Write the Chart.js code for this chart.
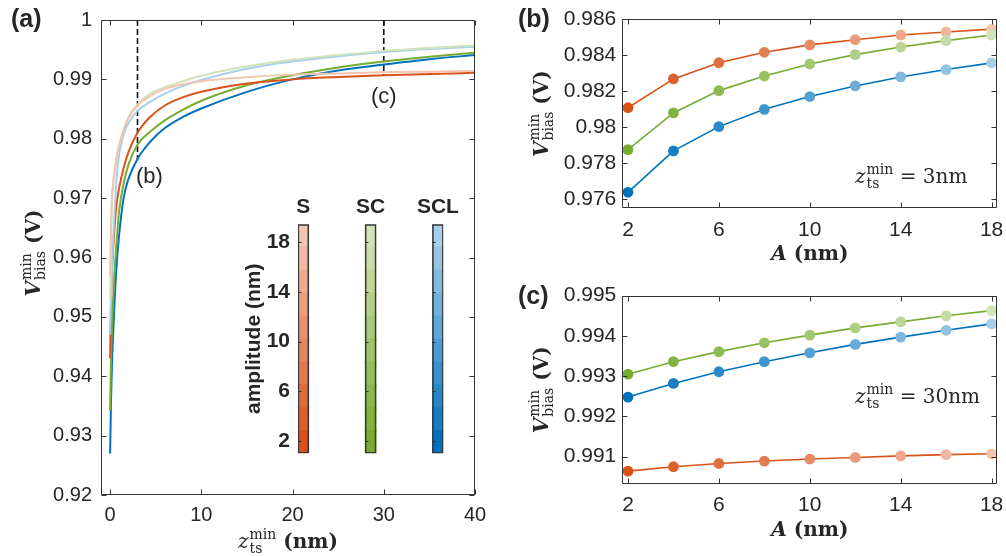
<!DOCTYPE html>
<html><head><meta charset="utf-8">
<script src="https://cdn.jsdelivr.net/npm/chart.js@4.4.1/dist/chart.umd.min.js"></script>
<style>
html,body{margin:0;padding:0;background:#fff;width:1006px;height:556px;overflow:hidden;position:relative}
.box{position:absolute}
canvas{display:block}
</style></head><body>
<div class="box" style="left:0;top:0;width:490px;height:556px"><canvas id="ca" width="490" height="556"></canvas></div>
<div class="box" style="left:240px;top:188px;width:230px;height:290px"><canvas id="cbar" width="230" height="290"></canvas></div>
<div class="box" style="left:500px;top:0;width:506px;height:280px"><canvas id="cb" width="506" height="280"></canvas></div>
<div class="box" style="left:500px;top:280px;width:506px;height:276px"><canvas id="cc" width="506" height="276"></canvas></div>
<script>
// ---------------- data ----------------
const families = ['S', 'SC', 'SCL'];
const ampNm = [2, 4, 6, 8, 10, 12, 14, 16, 18];
const ampTicks = [2, 6, 10, 14, 18];
const ampTickLabels = ['2', '6', '10', '14', '18'];
// colour-bar range (nm) and number of colour levels shown in each bar
const cbRange = [1, 19.45];
const cbLevels = 10;

// panel (a): V_bias^min vs z_ts^min for A = 2 nm and A = 18 nm
const zNm = [0, 0.1, 0.2, 0.3, 0.5, 0.75, 1, 1.5, 2, 3, 4.4, 6, 8, 10, 15, 20, 25, 30, 35, 40];
const vS_A2    = [0.943, 0.9525, 0.9575, 0.9605, 0.9655, 0.9695, 0.9718, 0.9752, 0.9777, 0.9810, 0.9837, 0.9856, 0.9870, 0.9879, 0.9893, 0.9900, 0.9904, 0.9907, 0.9909, 0.9911];
const vS_A18   = [0.957, 0.965, 0.9700, 0.9720, 0.9747, 0.9772, 0.9790, 0.9815, 0.9834, 0.9856, 0.9872, 0.9884, 0.9892, 0.9897, 0.99035, 0.9908, 0.9910, 0.9912, 0.9913, 0.9914];
const vSC_A2   = [0.9342, 0.943, 0.948, 0.952, 0.958, 0.9635, 0.9680, 0.9726, 0.9756, 0.9790, 0.9812, 0.9831, 0.9849, 0.9864, 0.9890, 0.9907, 0.9920, 0.9930, 0.9938, 0.9945];
const vSC_A18  = [0.953, 0.963, 0.9695, 0.9718, 0.9745, 0.9772, 0.9790, 0.9816, 0.9836, 0.9858, 0.9876, 0.9887, 0.9897, 0.9906, 0.9922, 0.9933, 0.9941, 0.9948, 0.9953, 0.9957];
const vSCL_A2  = [0.927, 0.936, 0.942, 0.946, 0.953, 0.9595, 0.9640, 0.9702, 0.9732, 0.9766, 0.9795, 0.9818, 0.9837, 0.9851, 0.9879, 0.9900, 0.9915, 0.9925, 0.9934, 0.9941];
const vSCL_A18 = [0.947, 0.953, 0.958, 0.962, 0.968, 0.9740, 0.9775, 0.9808, 0.9826, 0.9847, 0.9862, 0.9876, 0.9889, 0.9899, 0.9918, 0.9930, 0.9939, 0.9946, 0.9951, 0.9955];
const markB = { z: 3, vEnd: 0.9764 };
const markC = { z: 30, vEnd: 0.9906 };
const xTicksA = [0, 10, 20, 30, 40];
const xTickLabelsA = ['0', '10', '20', '30', '40'];
const yTicksA = [0.92, 0.93, 0.94, 0.95, 0.96, 0.97, 0.98, 0.99, 1];
const yTickLabelsA = ['0.92', '0.93', '0.94', '0.95', '0.96', '0.97', '0.98', '0.99', '1'];

// panel (b): z_ts^min = 3 nm
const vB_S   = [0.98107, 0.98267, 0.98357, 0.98415, 0.98456, 0.98485, 0.98511, 0.98528, 0.98544];
const vB_SC  = [0.97874, 0.98078, 0.98202, 0.98283, 0.98350, 0.98402, 0.98444, 0.98480, 0.98511];
const vB_SCL = [0.97637, 0.97867, 0.98002, 0.98098, 0.98169, 0.98228, 0.98278, 0.98319, 0.98356];
const yTicksB = [0.976, 0.978, 0.98, 0.982, 0.984, 0.986];
const yTickLabelsB = ['0.976', '0.978', '0.98', '0.982', '0.984', '0.986'];

// panel (c): z_ts^min = 30 nm
const vC_S   = [0.99064, 0.99075, 0.99083, 0.99089, 0.99094, 0.99098, 0.99102, 0.99105, 0.99107];
const vC_SC  = [0.99305, 0.99336, 0.99361, 0.99383, 0.99402, 0.99420, 0.99435, 0.99450, 0.99463];
const vC_SCL = [0.99248, 0.99282, 0.99311, 0.99336, 0.99358, 0.99379, 0.99397, 0.99414, 0.99430];
const yTicksC = [0.991, 0.992, 0.993, 0.994, 0.995];
const yTickLabelsC = ['0.991', '0.992', '0.993', '0.994', '0.995'];

// ---------------- styles ----------------
const INK = '#262626';
const SANS = '"Liberation Sans", Arial, sans-serif';
const SERIF = '"DejaVu Serif", serif';
const baseRGB = { S: [217, 83, 25], SC: [119, 172, 48], SCL: [0, 114, 189] };
const LIGHTEST = 0.66;
function mix(rgb, f) { return 'rgb(' + rgb.map(c => Math.round(c + (255 - c) * f)).join(',') + ')'; }
const shades = {}, cbShades = {};
families.forEach(f => {
  shades[f] = ampNm.map((a, i) => mix(baseRGB[f], LIGHTEST * i / (ampNm.length - 1)));
  cbShades[f] = Array.from({ length: cbLevels }, (_, k) => mix(baseRGB[f], LIGHTEST * k / (cbLevels - 1)));
});
const dark = f => shades[f][0];
const light = f => shades[f][ampNm.length - 1];

Chart.defaults.font.family = SANS;
Chart.defaults.color = INK;
Chart.defaults.animation = false;

function axis(o) {
  return {
    type: 'linear', min: o.min, max: o.max, position: o.pos, offset: false,
    grid: { display: false, drawTicks: false }, border: { display: false },
    title: o.title || { display: false },
    ticks: { font: { family: SANS, size: o.fs, weight: o.fw || 'normal' }, color: INK, padding: o.pad,
             maxRotation: 0, autoSkip: false, callback: (v, i) => o.labels[i] },
    afterBuildTicks: s => { s.ticks = o.ticks.map(v => ({ value: v })); },
    afterFit: s => {
      if (o.w != null) s.width = o.w;
      if (o.h != null) s.height = o.h;
      s.paddingLeft = 0; s.paddingRight = 0; s.paddingTop = 0; s.paddingBottom = 0;
    }
  };
}

function drawFrame(chart, xT, yT, len) {
  const { ctx, chartArea: a, scales: { x, y } } = chart;
  ctx.save(); ctx.strokeStyle = '#333'; ctx.lineWidth = 1;
  const L = Math.round(a.left) + .5, R = Math.round(a.right) - .5, T = Math.round(a.top) + .5, B = Math.round(a.bottom) - .5;
  ctx.beginPath();
  ctx.rect(L, T, R - L, B - T);
  xT.forEach(v => { const p = Math.round(x.getPixelForValue(v)) + .5; ctx.moveTo(p, B); ctx.lineTo(p, B - len); ctx.moveTo(p, T); ctx.lineTo(p, T + len); });
  yT.forEach(v => { const p = Math.round(y.getPixelForValue(v)) + .5; ctx.moveTo(L, p); ctx.lineTo(L + len, p); ctx.moveTo(R, p); ctx.lineTo(R - len, p); });
  ctx.stroke(); ctx.restore();
}

function drawMath(ctx, segs, x, y, rot, align) {
  ctx.save();
  ctx.translate(x, y); ctx.rotate(rot || 0);
  ctx.textBaseline = 'alphabetic'; ctx.textAlign = 'left'; ctx.fillStyle = INK;
  const w = segs.map(s => {
    ctx.font = s.f;
    if (s.t !== undefined) return ctx.measureText(s.t).width;
    return Math.max(ctx.measureText(s.sub).width, ctx.measureText(s.sup).width) + 1;
  });
  const total = w.reduce((p, q) => p + q, 0);
  let cx = align === 'left' ? 0 : -total / 2;
  segs.forEach((s, i) => {
    ctx.font = s.f;
    if (s.t !== undefined) ctx.fillText(s.t, cx, 0);
    else { ctx.fillText(s.sup, cx + 1, -9); ctx.fillText(s.sub, cx + 1, 5); }
    cx += w[i];
  });
  ctx.restore();
}
function label(ctx, txt, x, y, font, align) {
  ctx.save(); ctx.font = font; ctx.fillStyle = INK; ctx.textAlign = align || 'left'; ctx.textBaseline = 'middle';
  ctx.fillText(txt, x, y); ctx.restore();
}
const mathV = [{ t: 'V', f: `bold italic 20px ${SERIF}` }, { sub: 'bias', sup: 'min', f: `14px ${SERIF}` }, { t: ' (V)', f: `bold 20px ${SERIF}` }];
const mathZ = [{ t: 'z', f: `italic 20px ${SERIF}` }, { sub: 'ts', sup: 'min', f: `14px ${SERIF}` }, { t: ' (nm)', f: `bold 20px ${SERIF}` }];
const mathA = [{ t: 'A', f: `bold italic 20px ${SERIF}` }, { t: ' (nm)', f: `bold 20px ${SERIF}` }];
const annot = s => [{ t: 'z', f: `italic 20px ${SERIF}` }, { sub: 'ts', sup: 'min', f: `14px ${SERIF}` }, { t: ' = ' + s, f: `20px ${SERIF}` }];

// ---------------- panel (a) ----------------
const pts = arr => zNm.map((z, i) => ({ x: z, y: arr[i] }));
const curve = (arr, col) => ({ data: pts(arr), borderColor: col, borderWidth: 2, pointRadius: 0, cubicInterpolationMode: 'monotone', fill: false });
const dashed = m => ({ data: [{ x: m.z, y: 1 }, { x: m.z, y: m.vEnd }], borderColor: '#111', borderWidth: 1.6, borderDash: [6, 3], pointRadius: 0, fill: false });

new Chart(document.getElementById('ca'), {
  type: 'line',
  data: { datasets: [
    curve(vS_A18, light('S')), curve(vSC_A18, light('SC')), curve(vSCL_A18, light('SCL')),
    curve(vS_A2, dark('S')), curve(vSC_A2, dark('SC')), curve(vSCL_A2, dark('SCL')),
    dashed(markB), dashed(markC)
  ] },
  options: {
    responsive: false,
    layout: { padding: { left: 0, top: 20, right: 15, bottom: 0 } },
    plugins: { legend: { display: false }, tooltip: { enabled: false } },
    scales: {
      x: axis({ min: -1, max: 40, pos: 'bottom', ticks: xTicksA, labels: xTickLabelsA, fs: 20, pad: 8, h: 61 }),
      y: axis({ min: 0.92, max: 1, pos: 'left', ticks: yTicksA, labels: yTickLabelsA, fs: 20, pad: 9, w: 101 })
    }
  },
  plugins: [{ id: 'decoA', afterDraw(chart) {
    const { ctx, scales: { x, y } } = chart;
    drawFrame(chart, xTicksA, yTicksA, 5);
    label(ctx, '(b)', x.getPixelForValue(markB.z) + 12, y.getPixelForValue(0.9735), `22px ${SANS}`, 'center');
    label(ctx, '(c)', x.getPixelForValue(markC.z), y.getPixelForValue(0.987), `22px ${SANS}`, 'center');
    label(ctx, '(a)', 11, 20, `bold 25px ${SANS}`);
    drawMath(ctx, mathV, 40, 253, -Math.PI / 2);
    drawMath(ctx, mathZ, 288, 548, 0);
  } }]
});

// ---------------- colour bars ----------------
const cbStep = (cbRange[1] - cbRange[0]) / cbLevels;
new Chart(document.getElementById('cbar'), {
  type: 'bar',
  data: { datasets: [
    ...cbShades.S.map((c, k) => ({
      data: families.map((f, j) => ({ x: j, y: [cbRange[0] + k * cbStep - (k > 0 ? 0.15 : 0), cbRange[0] + (k + 1) * cbStep] })),
      backgroundColor: families.map(f => cbShades[f][k]), borderWidth: 0, grouped: false, barThickness: 11, order: 1
    })),
    { data: families.map((f, j) => ({ x: j, y: [cbRange[0], cbRange[1]] })),
      backgroundColor: 'rgba(0,0,0,0)', borderColor: '#3a3a3a', borderWidth: 1, borderSkipped: false, grouped: false, barThickness: 11, order: -1 }
  ] },
  options: {
    responsive: false,
    layout: { padding: { left: 0, top: 0, right: 26.7, bottom: 24.7 } },
    plugins: { legend: { display: false }, tooltip: { enabled: false } },
    scales: {
      x: axis({ min: -0.079, max: 2.08, pos: 'top', ticks: [0, 1, 2], labels: families, fs: 21, fw: 'bold', pad: 4, h: 36.3 }),
      y: axis({ min: cbRange[0], max: cbRange[1], pos: 'left', ticks: ampTicks, labels: ampTickLabels, fs: 21, fw: 'bold', pad: 8, w: 58,
        title: { display: true, text: 'amplitude (nm)', font: { family: SANS, size: 21, weight: 'bold' }, color: INK, padding: { top: 2, bottom: 2 } } })
    }
  },
  plugins: [{ id: 'decoBar', afterDraw(chart) {
    const { ctx, scales: { x, y } } = chart;
    ctx.save(); ctx.strokeStyle = '#333'; ctx.lineWidth = 1; ctx.beginPath();
    families.forEach((f, k) => {
      const l = Math.round(x.getPixelForValue(k) - 5.5) + .5;
      ampTicks.forEach(v => { const p = Math.round(y.getPixelForValue(v)) + .5; ctx.moveTo(l, p); ctx.lineTo(l + 3, p); });
    });
    ctx.stroke(); ctx.restore();
  } }]
});

// ---------------- panels (b), (c) ----------------
const series = (arr, f) => ({
  data: ampNm.map((a, i) => ({ x: a, y: arr[i] })), borderColor: dark(f), borderWidth: 1.6,
  pointBackgroundColor: shades[f], pointBorderColor: shades[f], pointBorderWidth: 0, pointRadius: 5.4, tension: 0, fill: false
});
function sidePanel(id, vs, yT, yL, yMin, yMax, padTop, xH, tag, tagY, ann, annY) {
  new Chart(document.getElementById(id), {
    type: 'line',
    data: { datasets: [series(vs[2], 'SCL'), series(vs[1], 'SC'), series(vs[0], 'S')] },
    options: {
      responsive: false,
      layout: { padding: { left: 0, top: padTop, right: 8.7, bottom: 0 } },
      plugins: { legend: { display: false }, tooltip: { enabled: false } },
      scales: {
        x: axis({ min: 1.75, max: 18.25, pos: 'bottom', ticks: ampTicks, labels: ampTickLabels, fs: 21, pad: 9, h: xH }),
        y: axis({ min: yMin, max: yMax, pos: 'left', ticks: yT, labels: yL, fs: 21, pad: 6, w: 122.3 })
      }
    },
    plugins: [{ id: 'deco' + id, afterDraw(chart) {
      const { ctx, chartArea: a } = chart;
      drawFrame(chart, ampTicks, yT, 5);
      label(ctx, tag, 18, tagY, `bold 25px ${SANS}`);
      drawMath(ctx, mathV, 48, (a.top + a.bottom) / 2, -Math.PI / 2);
      drawMath(ctx, mathA, (a.left + a.right) / 2, a.bottom + 52, 0);
      drawMath(ctx, annot(ann), 355, annY, 0, 'left');
    } }]
  });
}
sidePanel('cb', [vB_S, vB_SC, vB_SCL], yTicksB, yTickLabelsB, 0.97548, 0.986, 19, 71.7, '(b)', 20, '3nm', 183);
sidePanel('cc', [vC_S, vC_SC, vC_SCL], yTicksC, yTickLabelsC, 0.99032, 0.995, 15.7, 72, '(c)', 17, '30nm', 123);
</script>
</body></html>
